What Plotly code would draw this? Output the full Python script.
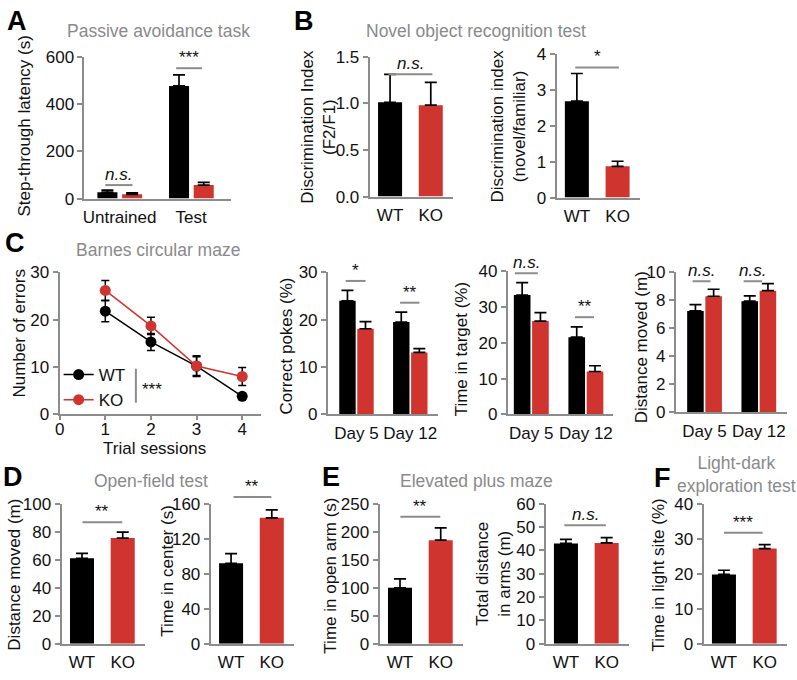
import plotly.graph_objects as go

W, H = 797, 680
BLACK = "#000000"
RED = "#cf352e"
GRAY = "#8c8c8c"
TGRAY = "#8a8a8a"
FONT = "Liberation Sans, Arial, sans-serif"

# ---------------- data ----------------
groups = ["WT", "KO"]

# A: passive avoidance
a_cats = ["Untrained", "Test"]
a_wt = [27, 476]
a_wt_err = [9, 47]
a_ko = [18, 57]
a_ko_err = [6, 11]

# B: novel object recognition
b1_vals = [1.01, 0.98]
b1_err = [0.30, 0.245]
b2_vals = [2.68, 0.87]
b2_err = [0.77, 0.14]

# C: Barnes maze
sessions = [1, 2, 3, 4]
c_wt = [21.8, 15.3, 10.2, 3.8]
c_wt_err = [2.2, 1.8, 2.0, 0.6]
c_ko = [26.2, 18.7, 10.2, 8.0]
c_ko_err = [2.1, 1.8, 2.2, 1.9]

days = ["Day 5", "Day 12"]
pokes_wt = [24.0, 19.5]
pokes_wt_err = [2.2, 2.1]
pokes_ko = [18.1, 13.1]
pokes_ko_err = [1.5, 0.8]
target_wt = [33.4, 21.6]
target_wt_err = [3.5, 2.9]
target_ko = [26.1, 12.0]
target_ko_err = [2.4, 1.6]
cdist_wt = [7.25, 7.95]
cdist_wt_err = [0.45, 0.38]
cdist_ko = [8.3, 8.7]
cdist_ko_err = [0.5, 0.5]

# D: open field
d_dist = [61, 75.5]
d_dist_err = [3.6, 4.2]
d_center = [92, 144]
d_center_err = [11, 9]

# E: elevated plus maze
e_open = [100, 185]
e_open_err = [16, 22]
e_total = [43.0, 43.2]
e_total_err = [1.7, 2.3]

# F: light-dark
f_light = [19.8, 27.2]
f_light_err = [1.2, 1.1]

# significance marks: (axis index, x0, x1, y, label)
sig_marks = [
    (1, -0.2, 0.18, 57, "<i>n.s.</i>"),
    (1, 0.79, 1.15, 551, "***"),
    (2, -0.04, 1.04, 1.31, "<i>n.s.</i>"),
    (3, -0.04, 1.03, 3.62, "*"),
    (5, -0.2, 0.17, 28.2, "*"),
    (5, 0.81, 1.17, 23.6, "**"),
    (6, -0.3, 0.12, 39.5, "<i>n.s.</i>"),
    (6, 0.8, 1.15, 27.2, "**"),
    (7, -0.22, 0.11, 9.37, "<i>n.s.</i>"),
    (7, 0.72, 1.06, 9.37, "<i>n.s.</i>"),
    (8, 0.01, 0.99, 86.8, "**"),
    (9, 0.06, 0.99, 167.8, "**"),
    (10, 0.01, 0.99, 227, "**"),
    (11, -0.04, 0.98, 50.8, "<i>n.s.</i>"),
    (12, 0.0, 0.95, 31.7, "***"),
]

# ---------------- figure ----------------
fig = go.Figure()
layout = dict(
    width=W, height=H, margin=dict(l=0, r=0, t=0, b=0),
    paper_bgcolor="white", plot_bgcolor="white",
    font=dict(family=FONT, size=17, color="#111111"),
    barmode="overlay", showlegend=True,
    legend=dict(x=54 / W, y=1 - 358 / H, xanchor="left", yanchor="top",
                font=dict(size=17, color="#111111"), bgcolor="rgba(0,0,0,0)",
                tracegroupgap=0),
)
annotations = []
shapes = []
ranges = {}


def ax_names(i):
    s = "" if i == 1 else str(i)
    return "xaxis" + s, "yaxis" + s, "x" + s, "y" + s


def add_axes(i, box, xrange, yrange, ytickvals, ytickformat=None,
             xcat=True, xtickvals=None):
    x0, x1, ytop, ybot = box
    xn, yn, xr, yr = ax_names(i)
    ranges[i] = (xrange, yrange)
    xa = dict(domain=[x0 / W, x1 / W], range=xrange, anchor=yr,
              showline=True, linecolor=GRAY, linewidth=2, showgrid=False,
              zeroline=False, tickfont=dict(size=17, color="#111111"),
              fixedrange=True)
    if xcat:
        xa.update(type="category", ticks="", ticklabelstandoff=2)
    else:
        xa.update(type="linear", tickvals=xtickvals, ticks="outside",
                  ticklen=4, tickwidth=2, tickcolor=GRAY,
                  ticklabelstandoff=-6)
    ya = dict(domain=[1 - ybot / H, 1 - ytop / H], range=yrange, anchor=xr,
              showline=True, linecolor=GRAY, linewidth=2, showgrid=False,
              zeroline=False, tickvals=ytickvals, ticks="outside", ticklen=5,
              tickwidth=2, tickcolor=GRAY,
              tickfont=dict(size=17, color="#111111"), fixedrange=True)
    if ytickformat:
        ya["tickformat"] = ytickformat
    layout[xn] = xa
    layout[yn] = ya


def err(arr):
    return dict(type="data", array=arr, arrayminus=[0] * len(arr),
                symmetric=False, color=BLACK, thickness=1.7, width=6)


def single_bars(i, vals, errs):
    _, _, xr, yr = ax_names(i)
    fig.add_trace(go.Bar(x=groups, y=vals, width=0.59,
                         marker=dict(color=[BLACK, RED], line=dict(width=0)),
                         error_y=err(errs), xaxis=xr, yaxis=yr,
                         showlegend=False, hoverinfo="skip"))


def paired_bars(i, cats, wt, wt_err, ko, ko_err, w, off_wt, off_ko):
    _, _, xr, yr = ax_names(i)
    fig.add_trace(go.Bar(x=cats, y=wt, width=w, offset=off_wt,
                         marker=dict(color=BLACK, line=dict(width=0)),
                         error_y=err(wt_err), xaxis=xr, yaxis=yr,
                         showlegend=False, hoverinfo="skip"))
    fig.add_trace(go.Bar(x=cats, y=ko, width=w, offset=off_ko,
                         marker=dict(color=RED, line=dict(width=0)),
                         error_y=err(ko_err), xaxis=xr, yaxis=yr,
                         showlegend=False, hoverinfo="skip"))


WK = [-0.5, 1.55]

# A
add_axes(1, (80, 227, 49, 195), [-0.49, 1.55], [0, 600], [0, 200, 400, 600])
paired_bars(1, a_cats, a_wt, a_wt_err, a_ko, a_ko_err, 0.28, -0.31, 0.035)
# B
add_axes(2, (367, 451, 49, 193), WK, [0, 1.5], [0, 0.5, 1.0, 1.5], ".1f")
single_bars(2, b1_vals, b1_err)
add_axes(3, (555, 639, 46, 194), WK, [0, 4], [0, 1, 2, 3, 4])
single_bars(3, b2_vals, b2_err)
# C line
add_axes(4, (55, 258, 271, 417), [0, 4.42], [0, 30], [0, 10, 20, 30],
         xcat=False, xtickvals=[0, 1, 2, 3, 4])
fig.add_trace(go.Scatter(
    x=sessions, y=c_wt, mode="lines+markers", name="WT",
    line=dict(color=BLACK, width=1.5), marker=dict(size=11, color=BLACK),
    error_y=dict(type="data", array=c_wt_err, color=BLACK, thickness=1.5, width=4),
    xaxis="x4", yaxis="y4", hoverinfo="skip"))
fig.add_trace(go.Scatter(
    x=sessions, y=c_ko, mode="lines+markers", name="KO",
    line=dict(color=RED, width=1.5), marker=dict(size=11, color=RED),
    error_y=dict(type="data", array=c_ko_err, color=BLACK, thickness=1.5, width=4),
    xaxis="x4", yaxis="y4", hoverinfo="skip"))
# C bars
add_axes(5, (325, 436, 271, 417), [-0.53, 1.52], [0, 30], [0, 10, 20, 30])
paired_bars(5, days, pokes_wt, pokes_wt_err, pokes_ko, pokes_ko_err, 0.305, -0.32, 0.015)
add_axes(6, (506, 612, 270, 417), [-0.43, 1.5], [0, 40], [0, 10, 20, 30, 40])
paired_bars(6, days, target_wt, target_wt_err, target_ko, target_ko_err, 0.305, -0.32, 0.015)
add_axes(7, (675, 787, 271, 415), [-0.53, 1.52], [0, 10], [0, 2, 4, 6, 8, 10])
paired_bars(7, days, cdist_wt, cdist_wt_err, cdist_ko, cdist_ko_err, 0.305, -0.32, 0.015)
# D
add_axes(8, (57, 141, 509, 653), WK, [0, 100], [0, 20, 40, 60, 80, 100])
single_bars(8, d_dist, d_dist_err)
add_axes(9, (207, 291, 509, 653), WK, [0, 160], [0, 40, 80, 120, 160])
single_bars(9, d_center, d_center_err)
# E
add_axes(10, (377, 461, 509, 653), WK, [0, 250], [0, 50, 100, 150, 200, 250])
single_bars(10, e_open, e_open_err)
add_axes(11, (544, 628, 509, 653), WK, [0, 60], [0, 10, 20, 30, 40, 50, 60])
single_bars(11, e_total, e_total_err)
# F
add_axes(12, (703, 787, 509, 653), WK, [0, 40], [0, 10, 20, 30, 40])
single_bars(12, f_light, f_light_err)

# significance marks (placed relative to each subplot's domain so marks
# above the top tick are not clipped)
for (i, x0, x1, y, label) in sig_marks:
    _, _, xr, yr = ax_names(i)
    (r0, r1), (_, ymax) = ranges[i]
    fx0 = (x0 - r0) / (r1 - r0)
    fx1 = (x1 - r0) / (r1 - r0)
    fy = y / ymax
    shapes.append(dict(type="line", xref=xr + " domain", yref=yr + " domain",
                       x0=fx0, x1=fx1, y0=fy, y1=fy,
                       line=dict(color=GRAY, width=2)))
    annotations.append(dict(xref=xr + " domain", yref=yr + " domain",
                            x=(fx0 + fx1) / 2, y=fy, text=label,
                            showarrow=False, yanchor="bottom", xanchor="center",
                            font=dict(size=17, color="#111111"), yshift=-1))

# legend side bracket + stars in line chart
shapes.append(dict(type="line", xref="x4", yref="y4", x0=1.67, x1=1.67,
                   y0=2.46, y1=9.65, line=dict(color=GRAY, width=2)))
annotations.append(dict(xref="x4", yref="y4", x=1.75, y=5.2, text="***",
                        showarrow=False, xanchor="left", yanchor="middle",
                        font=dict(size=17, color="#111111")))


def P(x, y):
    return x / W, 1 - y / H


def txt(x, y, text, size=17, color="#111111", angle=0, bold=False):
    px, py = P(x, y)
    annotations.append(dict(xref="paper", yref="paper", x=px, y=py,
                            text=("<b>%s</b>" % text) if bold else text,
                            showarrow=False, xanchor="center", yanchor="middle",
                            textangle=angle,
                            font=dict(size=size, color=color, family=FONT)))


# panel letters
for (x, y, t) in [(12, 12, "A"), (301, 12, "B"), (10, 241, "C"),
                  (8, 481, "D"), (328, 481, "E"), (662, 482, "F")]:
    txt(x, y, t, size=27, color="#000000", bold=True)

# panel titles
txt(154, 23, "Passive avoidance task", size=17.5, color=TGRAY)
txt(474, 23, "Novel object recognition test", size=17.5, color=TGRAY)
txt(154, 248, "Barnes circular maze", size=17.5, color=TGRAY)
txt(147, 486, "Open-field test", size=17.5, color=TGRAY)
txt(474, 486, "Elevated plus maze", size=17.5, color=TGRAY)
txt(736, 479, "Light-dark<br>exploration test", size=17.5, color=TGRAY)

# axis titles
txt(20, 120, "Step-through latency (s)", angle=-90)
txt(316, 121, "Discrimination Index<br>(F2/F1)", angle=-90)
txt(507, 120, "Discrimination index<br>(novel/familiar)", angle=-90)
txt(15, 334, "Number of errors", angle=-90)
txt(150, 452, "Trial sessions")
txt(283, 347, "Correct pokes (%)", angle=-90)
txt(459, 350, "Time in target (%)", angle=-90)
txt(640, 348, "Distance moved (m)", angle=-90)
txt(10, 582, "Distance moved (m)", angle=-90)
txt(164, 578, "Time in center (s)", angle=-90)
txt(328, 583, "Time in open arm (s)", angle=-90)
txt(492, 581, "Total distance<br>in arms (m)", angle=-90)
txt(658, 582, "Time in light site (%)", angle=-90)

layout["annotations"] = annotations
layout["shapes"] = shapes
fig.update_layout(**layout)
fig.write_html("out.html",
               config={"displayModeBar": False},
               post_script="document.body.style.margin='0';"
                           "document.body.style.padding='0';")
